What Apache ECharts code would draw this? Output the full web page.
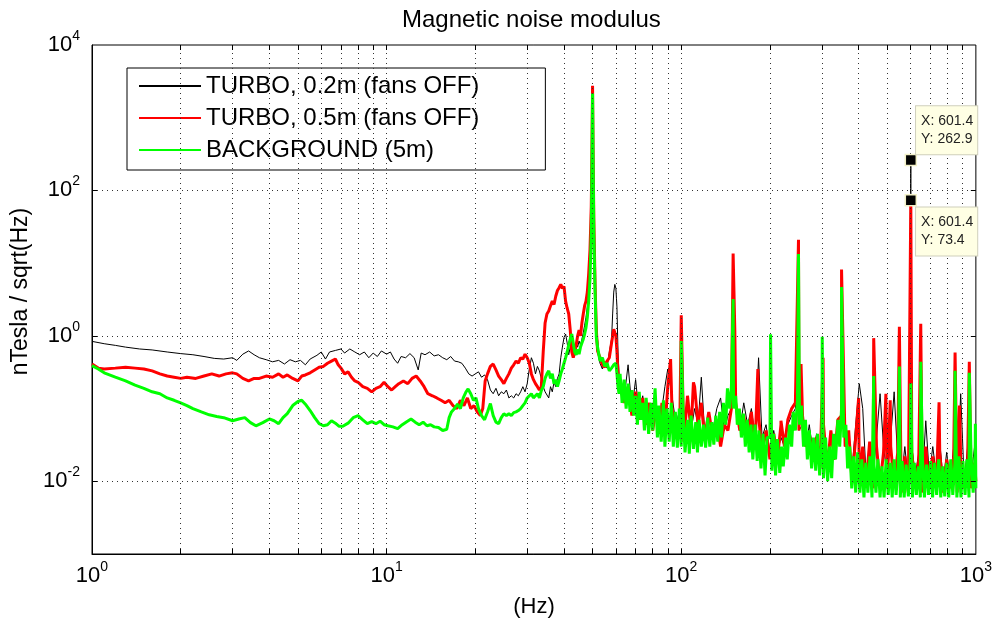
<!DOCTYPE html>
<html><head><meta charset="utf-8">
<script src="https://cdn.jsdelivr.net/npm/echarts@6.0.0/dist/echarts.min.js"></script>
<style>html,body{margin:0;padding:0;background:#fff}#c{width:995px;height:623px}</style>
</head><body><div id="c"></div>
<script>
// ---------- text ----------
const titleText = 'Magnetic noise modulus';
const seriesNames = ['TURBO, 0.2m (fans OFF)', 'TURBO, 0.5m (fans OFF)', 'BACKGROUND (5m)'];
const xName = '(Hz)';
const yName = 'nTesla / sqrt(Hz)';
const xTickExps = [0, 1, 2, 3];
const yTickExps = [-2, 0, 2, 4];
const xGridFreqs = [2,3,4,5,6,7,8,9,10,20,30,40,50,60,70,80,90,100,200,300,400,500,600,700,800,900];
const yGridVals = [0.01, 1, 100];
const dataTips = [[601.4, 262.9], [601.4, 73.4]];

// ---------- low-frequency part, [Hz, nT/sqrt(Hz)] ----------
const blackLF = [[1,0.84],[1.1,0.78],[1.2,0.74],[1.3,0.7],[1.45,0.66],[1.6,0.64],[1.8,0.6],[2,0.57],[2.2,0.55],[2.4,0.52],[2.6,0.49],[2.8,0.48],[3,0.5],[3.1,0.46],[3.25,0.56],[3.4,0.62],[3.55,0.55],[3.7,0.5],[3.9,0.47],[4.1,0.44],[4.3,0.46],[4.5,0.41],[4.7,0.47],[4.9,0.44],[5.1,0.46],[5.3,0.4],[5.5,0.48],[5.8,0.54],[6,0.6],[6.2,0.48],[6.4,0.6],[6.7,0.63],[7,0.66],[7.2,0.58],[7.5,0.66],[7.8,0.6],[8.1,0.55],[8.4,0.6],[8.7,0.5],[9,0.58],[9.3,0.52],[9.6,0.62],[10,0.56],[10.3,0.6],[10.6,0.48],[10.9,0.42],[11.2,0.52],[11.6,0.5],[12,0.57],[12.4,0.5],[12.8,0.34],[13.1,0.58],[13.5,0.55],[14,0.6],[14.5,0.53],[15,0.55],[15.5,0.5],[16,0.47],[16.5,0.52],[17,0.45],[17.5,0.44],[18,0.42],[18.5,0.36],[19,0.3],[19.5,0.28],[20,0.3],[20.5,0.32],[21,0.27],[21.5,0.29],[22,0.25],[22.5,0.18],[23,0.16],[23.5,0.19],[24,0.15],[24.5,0.17],[25,0.16],[25.5,0.18],[26,0.14],[26.5,0.15],[27,0.14],[27.5,0.16],[28,0.15],[28.5,0.17],[29,0.2],[29.5,0.17],[30,0.22],[30.5,0.35],[31,0.5],[31.5,0.42],[32,0.3],[32.5,0.38],[33,0.33],[33.5,0.26],[34,0.2],[34.5,0.17],[35,0.16],[35.5,0.14],[36,0.2],[36.5,0.17],[37,0.23],[37.5,0.2],[38,0.26],[38.5,0.3],[39,0.5],[39.5,0.7],[40,0.95],[40.5,1.06],[41,0.8],[41.5,0.55],[42,0.7],[42.5,0.62],[43,0.75],[43.5,0.6],[44,0.8],[44.5,0.7],[45,0.85],[45.5,0.75],[46,0.9],[46.5,1.1],[47,1.4],[47.5,1.8],[48,2.5],[48.5,4],[49,8],[49.5,30],[49.8,300],[50,1500],[50.2,250],[50.5,20],[51,4],[51.5,1.6],[52,0.9],[52.5,0.5],[53,0.42],[54,0.35],[55,0.45],[56,0.36],[57,0.6],[58,0.9],[58.5,2],[59,4],[59.5,5.1],[60,4.5],[60.5,2.5],[61,0.6],[61.5,0.3]];
const redLF = [[1,0.41],[1.05,0.36],[1.1,0.35],[1.2,0.36],[1.3,0.37],[1.4,0.36],[1.5,0.35],[1.6,0.33],[1.7,0.3],[1.8,0.28],[1.9,0.27],[2,0.26],[2.1,0.27],[2.25,0.26],[2.4,0.28],[2.55,0.3],[2.7,0.28],[2.85,0.3],[3,0.31],[3.1,0.3],[3.25,0.26],[3.4,0.24],[3.55,0.26],[3.7,0.26],[3.9,0.28],[4.1,0.27],[4.3,0.3],[4.45,0.27],[4.6,0.29],[4.8,0.26],[5,0.24],[5.15,0.28],[5.3,0.29],[5.5,0.31],[5.7,0.34],[5.9,0.37],[6.1,0.38],[6.3,0.42],[6.5,0.45],[6.7,0.48],[6.85,0.4],[7,0.36],[7.2,0.3],[7.4,0.32],[7.6,0.27],[7.8,0.24],[8,0.23],[8.3,0.2],[8.6,0.19],[8.9,0.17],[9.2,0.19],[9.5,0.2],[9.8,0.23],[10.1,0.2],[10.4,0.18],[10.7,0.2],[11,0.22],[11.4,0.24],[11.8,0.22],[12.2,0.26],[12.6,0.28],[13,0.24],[13.4,0.2],[13.8,0.16],[14.3,0.15],[14.8,0.14],[15.3,0.13],[15.8,0.12],[16.3,0.13],[16.8,0.11],[17.3,0.1],[17.8,0.13],[18.3,0.11],[18.8,0.14],[19.3,0.1],[19.8,0.11],[20.3,0.09],[20.8,0.08],[21.2,0.1],[21.6,0.24],[22,0.3],[22.5,0.38],[23,0.41],[23.5,0.34],[24,0.28],[24.5,0.25],[25,0.22],[25.5,0.26],[26,0.3],[26.5,0.36],[27,0.4],[27.5,0.45],[28,0.42],[28.5,0.5],[29,0.48],[29.5,0.56],[30,0.5],[30.5,0.42],[31,0.3],[31.5,0.25],[32,0.22],[32.5,0.2],[33,0.18],[33.5,0.2],[34,0.6],[34.5,1.5],[35,2],[35.5,2.2],[36,2.6],[36.5,3],[37,2.7],[37.5,3.5],[38,4.2],[38.5,4.6],[39,5.1],[39.5,4.5],[40,4.8],[40.5,3],[41,2.4],[41.5,2],[42,1.2],[42.5,0.6],[43,0.5],[43.5,0.6],[44,0.75],[44.5,1],[45,1.2],[45.5,1],[46,1.5],[46.5,2],[47,2.6],[47.5,3],[48,4],[48.5,7],[49,15],[49.5,60],[49.8,500],[50,2750],[50.2,400],[50.5,40],[51,5],[51.5,1.2],[52,0.62],[53,0.5],[54,0.4],[55,0.37],[56,0.45],[57,0.5],[58,0.8],[59,1.23],[60,1],[60.5,0.6],[61,0.3],[61.5,0.25]];
const greenLF = [[1,0.39],[1.05,0.35],[1.1,0.31],[1.2,0.27],[1.3,0.24],[1.4,0.21],[1.5,0.19],[1.6,0.17],[1.7,0.16],[1.8,0.14],[1.9,0.13],[2,0.12],[2.1,0.11],[2.2,0.1],[2.35,0.09],[2.5,0.082],[2.65,0.078],[2.8,0.075],[3,0.068],[3.15,0.072],[3.3,0.075],[3.45,0.064],[3.6,0.058],[3.8,0.064],[4,0.072],[4.15,0.068],[4.3,0.062],[4.45,0.075],[4.6,0.085],[4.8,0.11],[5,0.125],[5.15,0.13],[5.3,0.115],[5.5,0.094],[5.7,0.075],[5.9,0.062],[6.1,0.058],[6.3,0.06],[6.5,0.068],[6.7,0.063],[6.9,0.057],[7.1,0.057],[7.4,0.063],[7.7,0.075],[8,0.08],[8.3,0.07],[8.6,0.062],[8.9,0.066],[9.2,0.062],[9.5,0.067],[9.8,0.06],[10.1,0.058],[10.5,0.056],[10.9,0.053],[11.3,0.06],[11.7,0.066],[12.1,0.072],[12.5,0.065],[12.9,0.06],[13.3,0.065],[13.7,0.058],[14.1,0.06],[14.5,0.056],[15,0.055],[15.5,0.05],[16,0.052],[16.3,0.075],[16.6,0.09],[17,0.1],[17.4,0.115],[17.8,0.1],[18.2,0.14],[18.6,0.17],[18.9,0.186],[19.3,0.16],[19.7,0.13],[20.1,0.14],[20.5,0.1],[21,0.08],[21.5,0.07],[22,0.09],[22.5,0.117],[23,0.08],[23.5,0.065],[24,0.062],[24.5,0.075],[25,0.085],[25.5,0.08],[26,0.085],[26.5,0.08],[27,0.088],[27.5,0.09],[28,0.094],[28.5,0.1],[29,0.11],[29.5,0.12],[30,0.14],[30.5,0.15],[31,0.16],[31.5,0.14],[32,0.15],[32.5,0.16],[33,0.14],[33.5,0.176],[34,0.2],[34.5,0.26],[35,0.3],[35.5,0.33],[36,0.26],[36.5,0.3],[37,0.22],[37.5,0.25],[38,0.2],[38.5,0.24],[39,0.3],[39.5,0.35],[40,0.42],[40.5,0.5],[41,0.6],[41.5,0.75],[42,0.9],[42.5,1.06],[43,0.8],[43.5,0.6],[44,0.55],[44.5,0.65],[45,0.56],[45.5,0.7],[46,0.8],[46.5,0.9],[47,1.06],[47.5,1.3],[48,1.8],[48.5,3],[49,6],[49.5,25],[49.8,300],[50,2150],[50.2,300],[50.5,25],[51,4],[51.5,0.95],[52,0.7],[53,0.45],[54,0.5],[55,0.38],[56,0.42],[57,0.33],[58,0.36],[59,0.4],[60,0.42],[60.5,0.3],[61,0.2],[61.5,0.16]];

// ---------- high-frequency noise band ----------
// frequency grid shared by the two TURBO traces
const hfFreq = [62,64,66,68,70,72,74,76,78,80,82,84,86,88,90,
  93,96,99,102,105,108,111,114,117,120,
  124,128,132,136,140,144,148,
  153,158,163,168,173,178,183,188,
  194,200,206,212,218,224,230,
  237,244,251,258,265,272,
  280,288,296,304,
  313,322,331,340,
  350,360,370,380,
  391,402,413,424,
  436,448,460,473,486,500,
  514,528,543,558,574,590,
  606,623,640,658,676,695,
  714,734,754,775,796,
  818,841,864,888,913,938,964,990,1000];
const blackHF = [0.3,0.14,0.4,0.1,0.25,0.08,0.15,0.06,0.1,0.05,0.08,0.05,0.1,0.2,0.35,
  0.15,0.06,0.1,0.05,0.12,0.05,0.1,0.06,0.27,0.05,
  0.08,0.05,0.1,0.14,0.05,0.08,0.1,
  0.1,0.05,0.12,0.06,0.1,0.04,0.5,0.04,
  0.06,0.025,0.05,0.025,0.04,0.03,0.06,
  0.08,0.1,0.05,0.06,0.03,0.06,
  0.025,0.045,0.02,0.05,
  0.02,0.04,0.02,0.05,
  0.06,0.03,0.04,0.015,
  0.06,0.22,0.1,0.012,
  0.03,0.012,0.04,0.16,0.03,0.012,
  0.04,0.17,0.02,0.01,0.03,0.01,
  0.03,0.012,0.025,0.01,0.068,0.012,
  0.03,0.012,0.035,0.01,0.025,
  0.01,0.03,0.01,0.16,0.01,0.03,0.012,0.03,0.015];
const redHF = [0.25,0.12,0.2,0.08,0.17,0.07,0.14,0.06,0.12,0.05,0.1,0.045,0.12,0.05,0.2,
  0.1,0.04,0.08,0.035,0.15,0.05,0.2,0.06,0.12,0.04,
  0.09,0.04,0.07,0.03,0.06,0.05,0.1,
  0.12,0.05,0.08,0.035,0.09,0.03,0.08,0.025,
  0.05,0.02,0.045,0.02,0.06,0.03,0.07,
  0.1,0.12,0.05,0.08,0.03,0.045,
  0.02,0.04,0.015,0.06,
  0.015,0.05,0.02,0.07,
  0.08,0.03,0.05,0.01,
  0.04,0.01,0.03,0.009,
  0.035,0.008,0.03,0.009,0.025,0.008,
  0.03,0.009,0.025,0.007,0.022,0.007,
  0.025,0.008,0.02,0.007,0.03,0.008,
  0.022,0.008,0.025,0.007,0.02,
  0.008,0.022,0.007,0.02,0.008,0.02,0.008,0.018,0.01];
// background trace: its own, denser grid
const greenFreq = [62,63,64,65,66,67,68,69,70,71,
  72,73,74,75,76,77.5,79,80,81.5,83,
  84,85.5,87,88,89.5,91,92.5,94,95.5,97,
  98.5,100,101.5,103,105,106.5,108,110,112,113.5,
  115,117,119,121,123,125,127,129,131,133,
  135,137,139,141.5,143.5,146,148,150.5,153,155,
  157.5,160,162.5,165,167.5,170,172.5,175,178,181,
  183.5,186.5,189.5,192.5,195.5,
  200,203,206,209,212,216,219,222,226,229,
  233,237,240,244,248,252,256,260,264,268,
  272,277,281,286,290,295,300,304,309,314,
  319,324,329,334,340,345,350,356,362,367,
  373,379,385,391,397,404,410,417,423,430,
  437,444,451,458,465,473,480,488,496,504,
  512,520,528,536,545,554,562,571,580,590,
  599,609,618,628,638,648,659,669,680,691,
  702,713,724,736,748,760,772,784,797,809,
  822,835,849,862,876,890,904,919,933,948,
  963,979,995,1000];
const greenHF = [0.3,0.12,0.25,0.1,0.22,0.09,0.18,0.08,0.15,0.06,
  0.17,0.07,0.12,0.05,0.14,0.045,0.12,0.05,0.19,0.04,
  0.11,0.035,0.13,0.03,0.1,0.035,0.12,0.03,0.09,0.029,
  0.1,0.03,0.085,0.025,0.07,0.024,0.08,0.028,0.065,0.025,
  0.07,0.03,0.06,0.029,0.075,0.03,0.065,0.032,0.08,0.035,
  0.09,0.04,0.12,0.06,0.19,0.1,0.2,0.1,0.15,0.06,
  0.1,0.04,0.085,0.03,0.07,0.025,0.06,0.02,0.06,0.019,
  0.05,0.015,0.045,0.012,0.04,
  0.04,0.014,0.045,0.012,0.038,0.013,0.03,0.016,0.04,0.02,
  0.06,0.03,0.09,0.05,0.13,0.06,0.11,0.03,0.07,0.02,
  0.05,0.015,0.04,0.014,0.045,0.012,0.035,0.011,0.04,0.01,
  0.03,0.011,0.045,0.02,0.07,0.03,0.1,0.04,0.06,0.015,
  0.03,0.008,0.022,0.007,0.025,0.007,0.02,0.006,0.018,0.007,
  0.022,0.006,0.017,0.007,0.02,0.006,0.016,0.006,0.02,0.0065,
  0.018,0.006,0.02,0.0065,0.016,0.006,0.019,0.006,0.017,0.0062,
  0.02,0.006,0.018,0.0065,0.016,0.006,0.02,0.006,0.017,0.0065,
  0.019,0.006,0.018,0.0065,0.02,0.006,0.016,0.0062,0.018,0.006,
  0.02,0.0065,0.018,0.006,0.022,0.006,0.019,0.0065,0.02,0.006,
  0.022,0.007,0.025,0.008];

// ---------- line spikes (harmonics), [Hz, peak] ----------
const blackSpikes = [[100,0.6],[150,2],[250,8],[350,3],[550,0.3],[601.4,262.9],[650,0.3],[850,0.25],[950,0.25]];
const redSpikes = [[92,0.48],[100,1.92],[110,0.23],[150,13.6],[152,1.17],[182,0.35],[218,0.068],[250,21],[255,0.41],[303,0.5],[350,8.2],[400,0.14],[450,0.93],[495,0.16],[512,0.13],[550,1.33],[601.4,73.4],[650,1.47],[750,0.122],[850,0.59],[880,0.11],[950,0.44]];
const greenSpikes = [[100,0.85],[150,3.2],[201,1.05],[250,13.4],[301,0.97],[350,4.7],[450,0.28],[550,0.38],[601.4,0.222],[650,0.44],[850,0.33],[950,0.31],[996,0.062]];

// ---------- build ----------
function build(lf, freqs, hf, spikes) {
  const pts = lf.map(p => [p[0], p[1]]);
  freqs.forEach((f, i) => pts.push([f, hf[i]]));
  spikes.forEach(p => pts.push([p[0], p[1]]));
  pts.sort((a, b) => a[0] - b[0]);
  return pts;
}
const FONT = '"Liberation Sans", Arial, Helvetica, sans-serif';
const XMIN = 1, XMAX = 1000, YMIN = 0.001, YMAX = 10000;
const TY = 1.172, TX = 1.04; // tick length factors (about 5px)

function expLabel(exps) {
  return function (v) {
    const e = Math.round(Math.log10(v));
    return exps.indexOf(e) >= 0 ? '{b|10}{s|' + e + '}' : '';
  };
}
const rich = {
  b: { fontSize: 22, fontFamily: FONT, color: '#000' },
  s: { fontSize: 14, fontFamily: FONT, color: '#000', padding: [0, 0, 18, 0] }
};

const gridMarks = [];
xGridFreqs.forEach(f => gridMarks.push({ xAxis: f }));
yGridVals.forEach(v => gridMarks.push({ yAxis: v }));
const tickMarks = [];
xGridFreqs.forEach(f => {
  tickMarks.push([{ coord: [f, YMIN] }, { coord: [f, YMIN * TY] }]);
  tickMarks.push([{ coord: [f, YMAX / TY] }, { coord: [f, YMAX] }]);
});
yGridVals.forEach(v => {
  tickMarks.push([{ coord: [XMIN, v] }, { coord: [XMIN * TX, v] }]);
  tickMarks.push([{ coord: [XMAX / TX, v] }, { coord: [XMAX, v] }]);
});

const tipLabel = {
  show: true, fontSize: 14, fontFamily: FONT, color: '#222', lineHeight: 18,
  backgroundColor: '#ffffe4', borderColor: '#cfcfbc', borderWidth: 1,
  padding: [6, 4, 6, 5], align: 'left', verticalAlign: 'top'
};
function tip(pt, pos) {
  return { coord: pt, label: Object.assign({}, tipLabel, { position: pos, formatter: 'X: ' + pt[0] + '\nY: ' + pt[1] }) };
}
const tipStyle = { color: '#000', borderColor: '#f3f1c8', borderWidth: 1.5 };

const chart = echarts.init(document.getElementById('c'), null, { renderer: 'canvas' });
chart.setOption({
  animation: false,
  backgroundColor: '#fff',
  title: { text: titleText, left: 397, top: 3, textStyle: { fontSize: 24, fontWeight: 'normal', fontFamily: FONT, color: '#000' } },
  legend: {
    data: seriesNames, orient: 'vertical', left: 127, top: 68, itemWidth: 62, itemHeight: 14, itemGap: 6,
    padding: [5, 66, 7, 11], backgroundColor: '#fff', borderColor: '#000', borderWidth: 1, borderRadius: 0,
    itemStyle: { opacity: 0 },
    textStyle: { fontSize: 24, fontFamily: FONT, color: '#000', lineHeight: 26 },
    selectedMode: false
  },
  grid: { left: 92, right: 18, top: 45, bottom: 69, show: true, borderColor: '#000', borderWidth: 1, backgroundColor: 'transparent' },
  xAxis: {
    type: 'log', logBase: 10, min: XMIN, max: XMAX,
    axisLine: { show: true, lineStyle: { color: '#000', width: 1 } },
    axisTick: { show: false }, splitLine: { show: false },
    axisLabel: { formatter: expLabel(xTickExps), rich: rich, margin: 6 },
    name: xName, nameLocation: 'middle', nameGap: 42,
    nameTextStyle: { fontSize: 22, fontFamily: FONT, color: '#000' }
  },
  yAxis: {
    type: 'log', logBase: 10, min: YMIN, max: YMAX,
    axisLine: { show: true, lineStyle: { color: '#000', width: 1 } },
    axisTick: { show: false }, splitLine: { show: false },
    axisLabel: { formatter: expLabel(yTickExps), rich: rich, margin: 12 },
    name: yName, nameLocation: 'middle', nameGap: 52,
    nameTextStyle: { fontSize: 23, fontFamily: FONT, color: '#000', padding: [0, 0, 0, 16] }
  },
  series: [
    { name: '_grid', type: 'line', data: [[XMIN, YMIN]], symbol: 'none', silent: true, lineStyle: { width: 0 },
      markLine: { silent: true, symbol: ['none', 'none'], label: { show: false }, animation: false,
        lineStyle: { color: '#333', width: 1, type: [1, 4] }, data: gridMarks } },
    { name: '_ticks', type: 'line', data: [[XMIN, YMIN]], symbol: 'none', silent: true, lineStyle: { width: 0 },
      markLine: { silent: true, symbol: ['none', 'none'], label: { show: false }, animation: false,
        lineStyle: { color: '#000', width: 1, type: 'solid' }, data: tickMarks } },
    { name: seriesNames[0], type: 'line', data: build(blackLF, hfFreq, blackHF, blackSpikes), symbol: 'none',
      color: '#000', lineStyle: { color: '#000', width: 1 },
      markPoint: { silent: true, animation: false, symbol: 'rect', symbolSize: 11, itemStyle: tipStyle,
        data: [tip(dataTips[0], [11.5, -47.5])] } },
    { name: seriesNames[1], type: 'line', data: build(redLF, hfFreq, redHF, redSpikes), symbol: 'none',
      color: '#ff0000', lineStyle: { color: '#ff0000', width: 3 },
      markPoint: { silent: true, animation: false, symbol: 'rect', symbolSize: 11, itemStyle: tipStyle,
        data: [tip(dataTips[1], [11.5, 13.5])] } },
    { name: seriesNames[2], type: 'line', data: build(greenLF, greenFreq, greenHF, greenSpikes), symbol: 'none',
      color: '#00ff00', lineStyle: { color: '#00ff00', width: 3 } }
  ]
});
</script>
</body></html>
